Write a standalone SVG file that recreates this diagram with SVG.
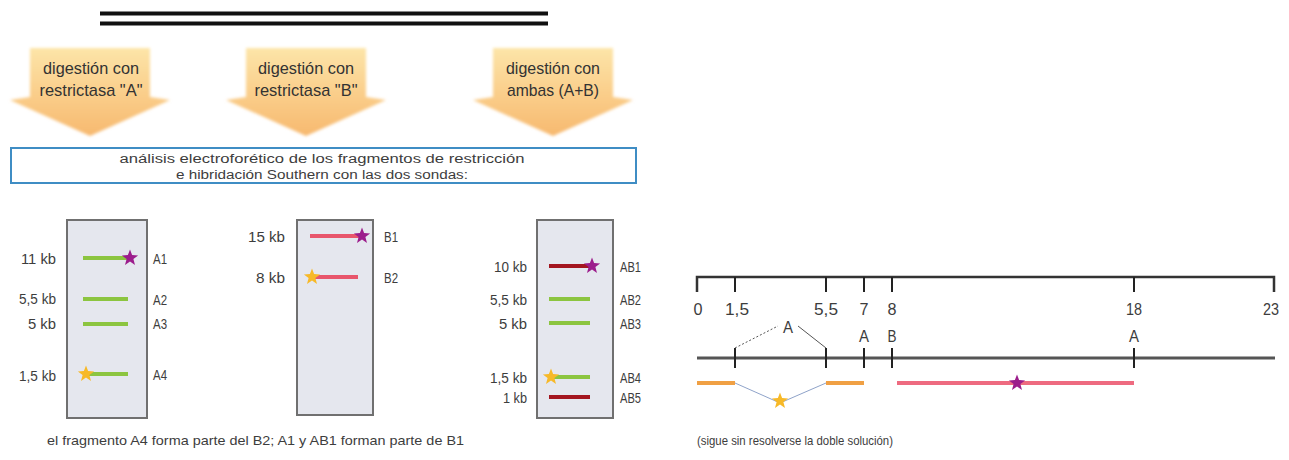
<svg xmlns="http://www.w3.org/2000/svg" xmlns:xlink="http://www.w3.org/1999/xlink" width="1289" height="460" viewBox="0 0 1289 460">
<defs>
<linearGradient id="og" x1="0" y1="0" x2="0" y2="1">
<stop offset="0" stop-color="#fde5a8"/>
<stop offset="1" stop-color="#f7b96f"/>
</linearGradient>
<filter id="soft" x="-10%" y="-10%" width="120%" height="120%"><feGaussianBlur stdDeviation="1.5"/></filter>
<path id="star" d="M0,-8.5 L2.1,-2.9 L8.1,-2.6 L3.4,1.1 L5,6.9 L0,3.6 L-5,6.9 L-3.4,1.1 L-8.1,-2.6 L-2.1,-2.9 Z"/>
<path id="arrow" d="M-60,0 H60 V49 L80,52 L0,88 L-80,52 L-60,49 Z"/>
</defs>
<style>
text{font-family:'Liberation Sans',Arial,sans-serif;fill:#3d3d3d}
.at{font-size:17px;text-anchor:middle;fill:#333}
.bt{font-size:12px;text-anchor:middle}
.lb{font-size:14px;text-anchor:end}
.ln{font-size:14px}
.cap{font-size:13px}
.sc{font-size:16px;text-anchor:middle}
.gel{fill:#e5e7ee;stroke:#707070;stroke-width:2}
.g{stroke:#8cc540;stroke-width:4}
.r{stroke:#e8566c;stroke-width:4}
.dr{stroke:#a3161f;stroke-width:4}
.mg{fill:#9c1d8c}
.yl{fill:#f7b928}
.ax{stroke:#333;stroke-width:2.5;fill:none}
.tk{stroke:#222;stroke-width:2}
</style>
<rect width="1289" height="460" fill="#ffffff"/>
<g id="dna">
<line x1="100" y1="13.5" x2="548" y2="13.5" stroke="#111" stroke-width="4"/>
<line x1="100" y1="23.5" x2="548" y2="23.5" stroke="#111" stroke-width="4"/>
</g>
<g id="arrowA">
<use xlink:href="#arrow" transform="translate(90,48)" fill="url(#og)" filter="url(#soft)"/>
<text class="at" x="91" y="74" textLength="96" lengthAdjust="spacingAndGlyphs">digestión con</text>
<text class="at" x="91" y="96" textLength="103" lengthAdjust="spacingAndGlyphs">restrictasa "A"</text>
</g>
<g id="arrowB">
<use xlink:href="#arrow" transform="translate(306,48)" fill="url(#og)" filter="url(#soft)"/>
<text class="at" x="306" y="74" textLength="96" lengthAdjust="spacingAndGlyphs">digestión con</text>
<text class="at" x="306" y="96" textLength="103" lengthAdjust="spacingAndGlyphs">restrictasa "B"</text>
</g>
<g id="arrowAB">
<use xlink:href="#arrow" transform="translate(553,48)" fill="url(#og)" filter="url(#soft)"/>
<text class="at" x="553" y="74" textLength="94" lengthAdjust="spacingAndGlyphs">digestión con</text>
<text class="at" x="553" y="96" textLength="92" lengthAdjust="spacingAndGlyphs">ambas (A+B)</text>
</g>
<g id="analysis">
<rect x="11" y="148" width="625" height="35" fill="#fff" stroke="#3f8dc4" stroke-width="2"/>
<text class="bt" x="322" y="163" textLength="405" lengthAdjust="spacingAndGlyphs">análisis electroforético de los fragmentos de restricción</text>
<text class="bt" x="322" y="179" textLength="292" lengthAdjust="spacingAndGlyphs">e hibridación Southern con las dos sondas:</text>
</g>
<g id="gelA">
<rect class="gel" x="67" y="220" width="80" height="198"/>
<line class="g" x1="83" y1="258" x2="128" y2="258"/>
<use xlink:href="#star" x="130" y="258" class="mg"/>
<line class="g" x1="83" y1="299" x2="128" y2="299"/>
<line class="g" x1="83" y1="324" x2="128" y2="324"/>
<line class="g" x1="85" y1="374" x2="128" y2="374"/>
<use xlink:href="#star" x="86" y="374" class="yl"/>
<text class="lb" x="56" y="264" textLength="35" lengthAdjust="spacingAndGlyphs">11 kb</text>
<text class="lb" x="56" y="304" textLength="37" lengthAdjust="spacingAndGlyphs">5,5 kb</text>
<text class="lb" x="56" y="329" textLength="28" lengthAdjust="spacingAndGlyphs">5 kb</text>
<text class="lb" x="56" y="381" textLength="37" lengthAdjust="spacingAndGlyphs">1,5 kb</text>
<text class="ln" x="153" y="264" textLength="14" lengthAdjust="spacingAndGlyphs">A1</text>
<text class="ln" x="153" y="305" textLength="14" lengthAdjust="spacingAndGlyphs">A2</text>
<text class="ln" x="153" y="329" textLength="14" lengthAdjust="spacingAndGlyphs">A3</text>
<text class="ln" x="153" y="380" textLength="14" lengthAdjust="spacingAndGlyphs">A4</text>
</g>
<g id="gelB">
<rect class="gel" x="297" y="220" width="76" height="195"/>
<line class="r" x1="310" y1="236" x2="360" y2="236"/>
<use xlink:href="#star" x="362" y="236" class="mg"/>
<line class="r" x1="312" y1="277" x2="358" y2="277"/>
<use xlink:href="#star" x="312" y="277" class="yl"/>
<text class="lb" x="285" y="242" textLength="37" lengthAdjust="spacingAndGlyphs">15 kb</text>
<text class="lb" x="285" y="283" textLength="29" lengthAdjust="spacingAndGlyphs">8 kb</text>
<text class="ln" x="384" y="242" textLength="14" lengthAdjust="spacingAndGlyphs">B1</text>
<text class="ln" x="384" y="283" textLength="14" lengthAdjust="spacingAndGlyphs">B2</text>
</g>
<g id="gelAB">
<rect class="gel" x="537" y="220" width="76" height="198"/>
<line class="dr" x1="549" y1="266" x2="590" y2="266"/>
<use xlink:href="#star" x="592" y="266" class="mg"/>
<line class="g" x1="549" y1="299" x2="590" y2="299"/>
<line class="g" x1="549" y1="323" x2="590" y2="323"/>
<line class="g" x1="551" y1="377" x2="590" y2="377"/>
<use xlink:href="#star" x="551" y="377" class="yl"/>
<line class="dr" x1="549" y1="397" x2="590" y2="397"/>
<text class="lb" x="527" y="272" textLength="33" lengthAdjust="spacingAndGlyphs">10 kb</text>
<text class="lb" x="527" y="305" textLength="37" lengthAdjust="spacingAndGlyphs">5,5 kb</text>
<text class="lb" x="527" y="329" textLength="28" lengthAdjust="spacingAndGlyphs">5 kb</text>
<text class="lb" x="527" y="383" textLength="37" lengthAdjust="spacingAndGlyphs">1,5 kb</text>
<text class="lb" x="527" y="403" textLength="24" lengthAdjust="spacingAndGlyphs">1 kb</text>
<text class="ln" x="620" y="272" textLength="21" lengthAdjust="spacingAndGlyphs">AB1</text>
<text class="ln" x="620" y="305" textLength="21" lengthAdjust="spacingAndGlyphs">AB2</text>
<text class="ln" x="620" y="329" textLength="21" lengthAdjust="spacingAndGlyphs">AB3</text>
<text class="ln" x="620" y="383" textLength="21" lengthAdjust="spacingAndGlyphs">AB4</text>
<text class="ln" x="620" y="403" textLength="21" lengthAdjust="spacingAndGlyphs">AB5</text>
</g>
<text class="cap" x="47" y="445" textLength="417" lengthAdjust="spacingAndGlyphs">el fragmento A4 forma parte del B2; A1 y AB1 forman parte de B1</text>
<g id="map">
<path class="ax" d="M697,292 V277 H1274 V292"/>
<line class="tk" x1="735" y1="277" x2="735" y2="292"/>
<line class="tk" x1="826" y1="277" x2="826" y2="292"/>
<line class="tk" x1="864" y1="277" x2="864" y2="292"/>
<line class="tk" x1="892" y1="277" x2="892" y2="292"/>
<line class="tk" x1="1134" y1="277" x2="1134" y2="292"/>
<text class="sc" x="698" y="315" textLength="9" lengthAdjust="spacingAndGlyphs">0</text>
<text class="sc" x="737" y="315" textLength="24" lengthAdjust="spacingAndGlyphs">1,5</text>
<text class="sc" x="826" y="315" textLength="24" lengthAdjust="spacingAndGlyphs">5,5</text>
<text class="sc" x="864" y="315" textLength="9" lengthAdjust="spacingAndGlyphs">7</text>
<text class="sc" x="892" y="315" textLength="9" lengthAdjust="spacingAndGlyphs">8</text>
<text class="sc" x="1134" y="315" textLength="16" lengthAdjust="spacingAndGlyphs">18</text>
<text class="sc" x="1271" y="315" textLength="16" lengthAdjust="spacingAndGlyphs">23</text>
<text class="sc" x="864" y="342" textLength="10" lengthAdjust="spacingAndGlyphs">A</text>
<text class="sc" x="892" y="342" textLength="9" lengthAdjust="spacingAndGlyphs">B</text>
<text class="sc" x="1134" y="342" textLength="10" lengthAdjust="spacingAndGlyphs">A</text>
<text class="sc" x="788" y="333" textLength="10" lengthAdjust="spacingAndGlyphs">A</text>
<line x1="697" y1="358" x2="1275" y2="358" stroke="#555" stroke-width="3"/>
<line class="tk" x1="735" y1="348" x2="735" y2="368"/>
<line class="tk" x1="826" y1="348" x2="826" y2="368"/>
<line class="tk" x1="864" y1="348" x2="864" y2="368"/>
<line class="tk" x1="892" y1="348" x2="892" y2="368"/>
<line class="tk" x1="1134" y1="348" x2="1134" y2="368"/>
</g>
<g id="connectors" fill="none">
<path d="M735,348 L778,326" stroke="#555" stroke-width="1" stroke-dasharray="2,2"/>
<path d="M798,326 L826,348" stroke="#555" stroke-width="1"/>
<path d="M735,383 L780,403 L826,383" stroke="#8fa3c9" stroke-width="1"/>
<line x1="697" y1="383" x2="735" y2="383" stroke="#f0a044" stroke-width="4"/>
<line x1="826" y1="383" x2="864" y2="383" stroke="#f0a044" stroke-width="4"/>
<line x1="897" y1="383" x2="1134" y2="383" stroke="#ee6b80" stroke-width="4"/>
</g>
<use xlink:href="#star" x="780" y="401" class="yl"/>
<use xlink:href="#star" x="1017" y="383" class="mg"/>
<text class="cap" x="697" y="445" textLength="196" lengthAdjust="spacingAndGlyphs">(sigue sin resolverse la doble solución)</text>
</svg>
